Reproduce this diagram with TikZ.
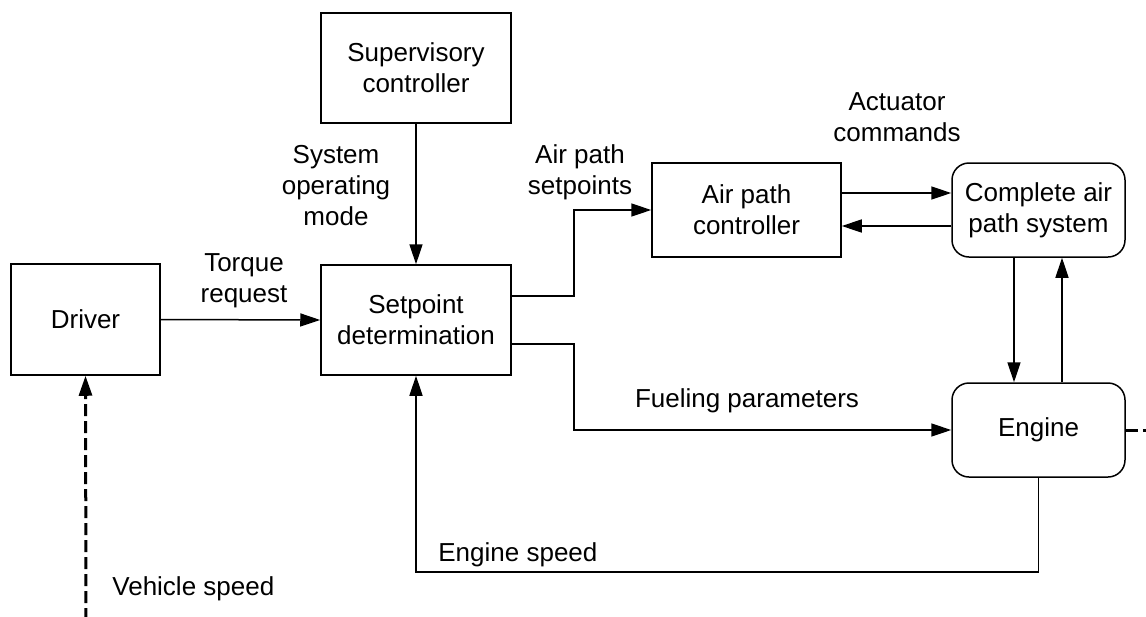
\documentclass[tikz,border=0pt]{standalone}
\usepackage{fontspec}
\setmainfont{Liberation Sans}
\usetikzlibrary{arrows.meta,calc}
\begin{document}
\begin{tikzpicture}[x=0.5pt,y=-0.5pt,
  font=\fontsize{13}{15.5}\selectfont,
  blk/.style={draw,line width=0.75pt,inner sep=0pt,align=center},
  rblk/.style={blk,rounded corners=8.5pt},
  lbl/.style={inner sep=0pt,align=center},
  arr/.style={line width=0.75pt,-{Triangle[length=10pt,width=6.5pt]}},
  ln/.style={line width=0.75pt},
  dsharr/.style={line width=1.5pt,dash pattern=on 6pt off 2.5pt,-{Triangle[length=10pt,width=6.5pt]}},
  dsh/.style={line width=1.5pt,dash pattern=on 6pt off 2.5pt}]
\useasboundingbox (0,0) rectangle (1146,616);
% blocks
\node[blk,minimum width=95pt,minimum height=55pt] (sup) at (416,68) {Supervisory\\controller};
\node[blk,minimum width=95pt,minimum height=55pt] (setp) at (416,320) {Setpoint\\determination};
\node[blk,minimum width=74.5pt,minimum height=55.5pt] (drv) at (85.5,319.5) {Driver};
\node[blk,minimum width=94.5pt,minimum height=47pt] (apc) at (746.5,210) {Air path\\controller};
\node[rblk,minimum width=86.5pt,minimum height=47pt] (cap) at (1038.5,210) {Complete air\\path system};
\node[rblk,minimum width=86.5pt,minimum height=47pt] (eng) at (1038.5,430) {Engine};
% labels
\node[lbl] (lsys) at (336,186) {System\\operating\\mode};
\node[lbl] (ltq) at (244,281) {Torque\\request};
\node[lbl] (lasp) at (580,172) {Air path\\setpoints};
\node[lbl] (lact) at (897,117) {Actuator\\commands};
\node[lbl,anchor=base] (lfuel) at (747,407) {Fueling parameters};
\node[lbl,anchor=base west] (les) at (438,561) {Engine speed};
\node[lbl,anchor=base west] (lvs) at (112,595) {Vehicle speed};
% helper coordinates
\coordinate (j1) at (574,296);
\coordinate (j2) at (574,344);
\coordinate (c1) at (0,193);
\coordinate (c2) at (0,226);
\coordinate (d1) at (1014,0);
\coordinate (d2) at (1062,0);
\coordinate (c3) at (416,572);
\coordinate (vs) at (86,620);
\coordinate (er) at (1150,430);
% connectors
\draw[arr] (drv.east) -- (setp.west);
\draw[arr] (sup.south) -- (setp.north);
\draw[arr] (setp.east |- j1) -- (j1) |- (apc.west);
\draw[arr] (setp.east |- j2) -- (j2) |- (eng.west);
\draw[arr] (apc.east |- c1) -- (cap.west |- c1);
\draw[arr] (cap.west |- c2) -- (apc.east |- c2);
\draw[arr] (cap.south -| d1) -- (eng.north -| d1);
\draw[arr] (eng.north -| d2) -- (cap.south -| d2);
\draw[arr] (eng.south) |- (c3) -- (setp.south);
\draw[dsharr] (vs) -- (drv.south);
\draw[dsh] (eng.east) -- (er);
\end{tikzpicture}
\end{document}
